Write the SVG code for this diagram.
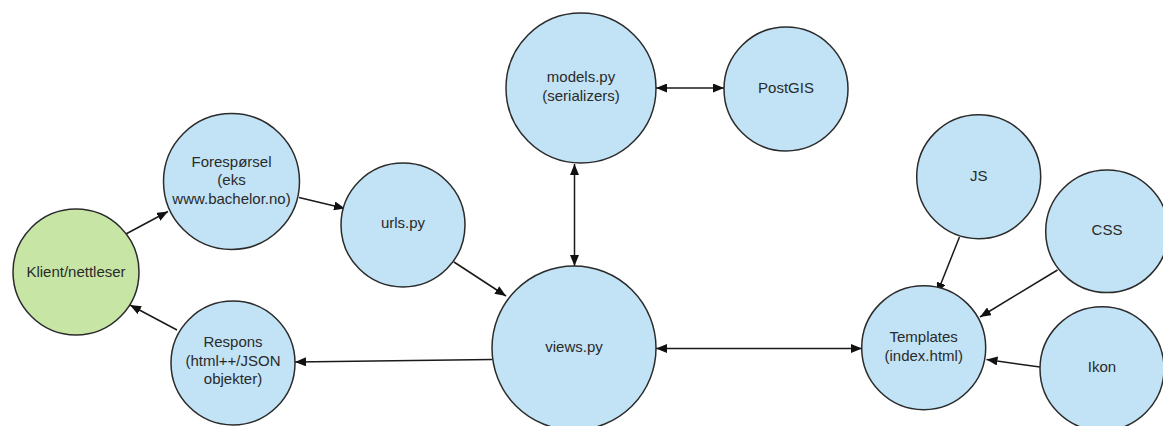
<svg xmlns="http://www.w3.org/2000/svg" width="1163" height="426" viewBox="0 0 1163 426">
  <style>
    .node { fill: #c1e3f5; stroke: #2b2b2b; stroke-width: 1.5; }
    .client { fill: #c7e6a6; }
    .label { font-family: "Liberation Sans", Arial, sans-serif; font-size: 15px; fill: #2a2a2a; text-anchor: middle; }
    .edge { fill: none; stroke: #1a1a1a; stroke-width: 1.5; }
  </style>
  <defs>
    <marker id="arrow" viewBox="0 0 10 10" refX="10" refY="5" markerWidth="11" markerHeight="9" markerUnits="userSpaceOnUse" orient="auto-start-reverse" preserveAspectRatio="none">
      <path d="M0,0 L10,5 L0,10 Z" fill="#111"/>
    </marker>
  </defs>
  <rect width="1163" height="426" fill="#ffffff"/>

  <g id="connectors">
    <line class="edge" x1="124" y1="235" x2="168" y2="211.5" marker-end="url(#arrow)"/>
    <line class="edge" x1="299" y1="197.5" x2="345" y2="208.5" marker-end="url(#arrow)"/>
    <line class="edge" x1="454" y1="262" x2="506" y2="296" marker-end="url(#arrow)"/>
    <line class="edge" x1="574.5" y1="164" x2="574.5" y2="266" marker-start="url(#arrow)" marker-end="url(#arrow)"/>
    <line class="edge" x1="656" y1="88" x2="724" y2="88" marker-start="url(#arrow)" marker-end="url(#arrow)"/>
    <line class="edge" x1="492" y1="359.5" x2="295" y2="362" marker-end="url(#arrow)"/>
    <line class="edge" x1="177" y1="330" x2="130" y2="305" marker-end="url(#arrow)"/>
    <line class="edge" x1="656" y1="348.5" x2="862" y2="348.5" marker-start="url(#arrow)" marker-end="url(#arrow)"/>
    <line class="edge" x1="959.5" y1="237" x2="937" y2="293.5" marker-end="url(#arrow)"/>
    <line class="edge" x1="1057.5" y1="270" x2="980" y2="317" marker-end="url(#arrow)"/>
    <line class="edge" x1="1040" y1="367" x2="986.5" y2="359.5" marker-end="url(#arrow)"/>
  </g>

  <g id="klient">
    <circle class="node client" cx="76" cy="272" r="63"/>
    <text class="label" x="76" y="277">Klient/nettleser</text>
  </g>
  <g id="foresporsel">
    <circle class="node" cx="231.5" cy="181.5" r="68"/>
    <text class="label" x="231.5" y="166.5">Forespørsel</text>
    <text class="label" x="231.5" y="185">(eks</text>
    <text class="label" x="231.5" y="203.5">www.bachelor.no)</text>
  </g>
  <g id="urls">
    <circle class="node" cx="403" cy="225" r="62"/>
    <text class="label" x="403" y="228">urls.py</text>
  </g>
  <g id="respons">
    <circle class="node" cx="233" cy="363" r="62"/>
    <text class="label" x="233" y="346.5">Respons</text>
    <text class="label" x="233" y="365.5">(html++/JSON</text>
    <text class="label" x="233" y="384">objekter)</text>
  </g>
  <g id="models">
    <circle class="node" cx="581" cy="88" r="75"/>
    <text class="label" x="581" y="82">models.py</text>
    <text class="label" x="581" y="100.5">(serializers)</text>
  </g>
  <g id="postgis">
    <circle class="node" cx="786" cy="89" r="62"/>
    <text class="label" x="786" y="93">PostGIS</text>
  </g>
  <g id="views">
    <circle class="node" cx="574" cy="348" r="82"/>
    <text class="label" x="574" y="352">views.py</text>
  </g>
  <g id="js">
    <circle class="node" cx="978.7" cy="176.7" r="62"/>
    <text class="label" x="978.7" y="180.5">JS</text>
  </g>
  <g id="css">
    <circle class="node" cx="1107" cy="231.3" r="61.3"/>
    <text class="label" x="1107" y="235">CSS</text>
  </g>
  <g id="templates">
    <circle class="node" cx="923.7" cy="347.7" r="62"/>
    <text class="label" x="923.7" y="342">Templates</text>
    <text class="label" x="923.7" y="361">(index.html)</text>
  </g>
  <g id="ikon">
    <circle class="node" cx="1102" cy="368.7" r="62"/>
    <text class="label" x="1102" y="372">Ikon</text>
  </g>
</svg>
